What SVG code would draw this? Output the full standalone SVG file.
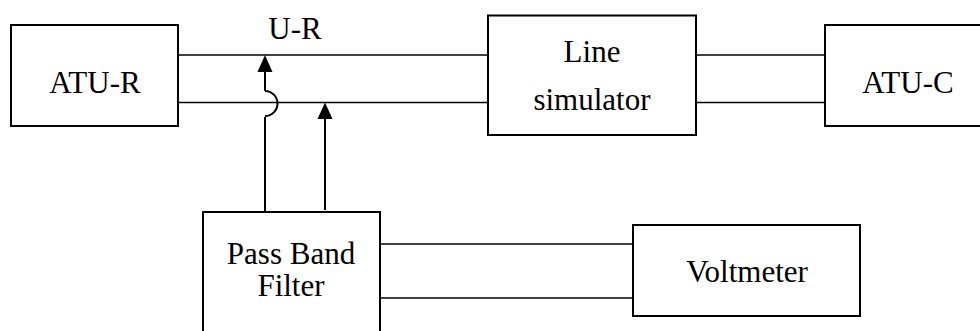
<svg xmlns="http://www.w3.org/2000/svg" width="980" height="331" viewBox="0 0 980 331">
<style>
.box{fill:#fff;stroke:#000;stroke-width:2}
.ln{fill:none;stroke:#000;stroke-width:1.6}
.ar{fill:none;stroke:#000;stroke-width:2}
.hd{fill:#000;stroke:none}
text{font-family:"Liberation Serif","Times New Roman",serif;font-size:31px;fill:#000;text-anchor:middle}
</style>
<rect width="980" height="331" fill="#fff"/>
<g id="connectors">
<line class="ln" x1="178" y1="55" x2="488" y2="55"/>
<line class="ln" x1="178" y1="102.5" x2="488" y2="102.5"/>
<line class="ln" x1="696" y1="55" x2="825" y2="55"/>
<line class="ln" x1="696" y1="102.5" x2="825" y2="102.5"/>
<line class="ln" x1="380" y1="244" x2="633" y2="244"/>
<line class="ln" x1="380" y1="298" x2="633" y2="298"/>
<line class="ar" x1="265" y1="212" x2="265" y2="117"/>
<path class="ar" d="M265 91 A12.5 12.5 0 0 1 265 116"/>
<line class="ar" x1="265" y1="91" x2="265" y2="70"/>
<polygon class="hd" points="265,55 257.5,72 272.5,72"/>
<line class="ar" x1="325" y1="210" x2="325" y2="116"/>
<polygon class="hd" points="325,102.5 317.5,119 332.5,119"/>
</g>
<g id="atu-r">
<rect class="box" x="11" y="25" width="167" height="101"/>
<text x="95" y="93">ATU-R</text>
</g>
<g id="u-r-label">
<text x="295" y="39">U-R</text>
</g>
<g id="line-simulator">
<rect class="box" x="488" y="15.5" width="208" height="119.5"/>
<text x="592" y="62">Line</text>
<text x="592" y="110">simulator</text>
</g>
<g id="atu-c">
<rect class="box" x="825" y="25" width="160" height="101"/>
<text x="908" y="93">ATU-C</text>
</g>
<g id="pass-band-filter">
<rect class="box" x="203" y="212" width="177" height="130"/>
<text x="291" y="264">Pass Band</text>
<text x="291" y="296">Filter</text>
</g>
<g id="voltmeter">
<rect class="box" x="633" y="225" width="227" height="91"/>
<text x="747" y="282">Voltmeter</text>
</g>
</svg>
